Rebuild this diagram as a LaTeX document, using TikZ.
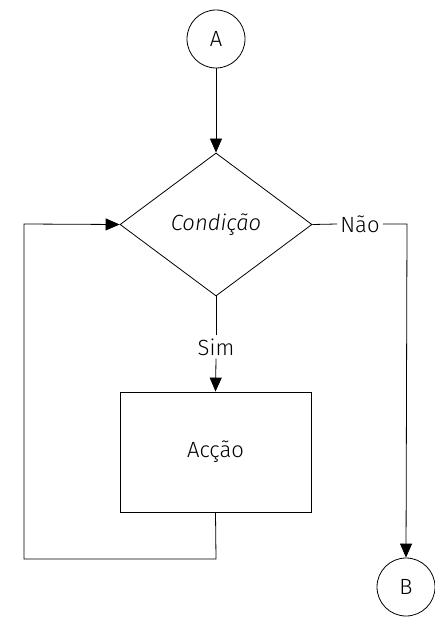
\documentclass[tikz,border=0pt]{standalone}
\usepackage{fontspec}
\setmainfont{Fira Sans}[UprightFont=* Light, ItalicFont=* Light Italic]
\usetikzlibrary{shapes.geometric,arrows.meta}
\begin{document}
\begin{tikzpicture}[x=1pt,y=-1pt,
  every node/.style={font=\fontsize{22}{26}\selectfont},
  line/.style={line width=0.8pt, draw=black},
  arr/.style={line, -{Triangle[length=14pt,width=12pt]}},
  conn/.style={circle, line, minimum size=58pt, inner sep=0pt},
  cond/.style={diamond, line, minimum width=192pt, minimum height=143pt, inner sep=0pt, aspect=1.343},
  act/.style={rectangle, line, minimum width=191pt, minimum height=120pt, inner sep=0pt},
  lbl/.style={inner sep=3pt}]
\useasboundingbox (0,0) rectangle (434,617);
\node[conn] (A) at (216,39) {A};
\node[cond] (C) at (216,224.5) {\itshape Condição};
\node[act] (Ac) at (215.5,452) {Acção};
\node[conn] (B) at (406,587) {B};
\node[lbl] (nao) at (360,224) {Não};
\node[lbl] (sim) at (216,347) {Sim};
\coordinate (r1) at (407,224);
\coordinate (l1) at (216,559);
\coordinate (l2) at (24,559);
\coordinate (l3) at (24,224);
\draw[arr] (A) -- (C.north);
\draw[line] (C.east) -- (nao.west);
\draw[arr] (nao.east) -- (r1) -- (B.north);
\draw[line] (C.south) -- (sim.north);
\draw[arr] (sim.south) -- (Ac.north);
\draw[arr] (Ac.south) -- (l1) -- (l2) -- (l3) -- (C.west);
\end{tikzpicture}
\end{document}
